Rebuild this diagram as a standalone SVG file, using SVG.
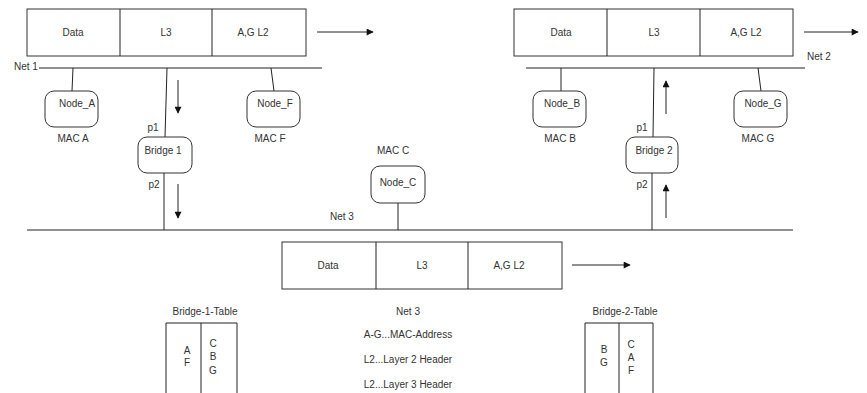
<svg xmlns="http://www.w3.org/2000/svg" width="867" height="393" viewBox="0 0 867 393">
<defs>
<marker id="ah" viewBox="0 0 10 10" refX="9" refY="5" markerWidth="8" markerHeight="7" markerUnits="userSpaceOnUse" orient="auto">
<path d="M0,0 L10,5 L0,10 z" fill="#111"/>
</marker>
<style>
text{font-family:"Liberation Sans",Arial,sans-serif;font-size:10px;fill:#333;text-anchor:middle}
.l{text-anchor:start}
.ln{stroke:#222;stroke-width:1;fill:none}
.bx{stroke:#333;stroke-width:1;fill:#fff}
.ar{stroke:#222;stroke-width:1;fill:none;marker-end:url(#ah)}
</style>
</defs>
<rect width="867" height="393" fill="#fff"/>

<g id="connectors">
<line class="ln" x1="39" y1="68" x2="322" y2="68"/>
<line class="ln" x1="526" y1="68" x2="805" y2="68"/>
<line class="ln" x1="27" y1="230" x2="793" y2="230"/>
<line class="ln" x1="73" y1="68" x2="72" y2="91"/>
<line class="ln" x1="271" y1="68" x2="274" y2="91"/>
<line class="ln" x1="167" y1="68" x2="165" y2="137"/>
<line class="ln" x1="164" y1="173" x2="164" y2="230"/>
<line class="ln" x1="561" y1="68" x2="561" y2="91"/>
<line class="ln" x1="758" y1="68" x2="761" y2="91"/>
<line class="ln" x1="654" y1="68" x2="653" y2="137"/>
<line class="ln" x1="652" y1="173" x2="652" y2="230"/>
<line class="ln" x1="398" y1="203" x2="398" y2="230"/>
<line class="ar" x1="317" y1="32" x2="373" y2="32"/>
<line class="ar" x1="804" y1="32" x2="858" y2="32"/>
<line class="ar" x1="572" y1="265" x2="630" y2="265"/>
<line class="ar" x1="178" y1="80" x2="178" y2="113"/>
<line class="ar" x1="178" y1="184" x2="178" y2="218"/>
<line class="ar" x1="666" y1="114" x2="666" y2="81"/>
<line class="ar" x1="666" y1="218" x2="666" y2="185"/>
</g>

<g id="packet1">
<rect class="bx" x="27" y="9" width="279" height="47"/>
<line class="ln" x1="120" y1="9" x2="120" y2="56"/>
<line class="ln" x1="212" y1="9" x2="212" y2="56"/>
<text x="73" y="36">Data</text>
<text x="166" y="36">L3</text>
<text x="253" y="36">A,G L2</text>
</g>
<g id="packet2">
<rect class="bx" x="514" y="9" width="279" height="47"/>
<line class="ln" x1="607" y1="9" x2="607" y2="56"/>
<line class="ln" x1="700" y1="9" x2="700" y2="56"/>
<text x="561" y="36">Data</text>
<text x="654" y="36">L3</text>
<text x="746" y="36">A,G L2</text>
</g>
<g id="packet3">
<rect class="bx" x="282" y="242" width="280" height="47"/>
<line class="ln" x1="376" y1="242" x2="376" y2="289"/>
<line class="ln" x1="468" y1="242" x2="468" y2="289"/>
<text x="328" y="269">Data</text>
<text x="422" y="269">L3</text>
<text x="509" y="269">A,G L2</text>
</g>

<g id="net-labels">
<text class="l" x="14" y="70">Net 1</text>
<text class="l" x="807" y="60">Net 2</text>
<text class="l" x="330" y="220">Net 3</text>
</g>

<g id="node_a">
<rect class="bx" x="45" y="91" width="53" height="36" rx="9"/>
<text x="77" y="107">Node_A</text>
<text x="73" y="142">MAC A</text>
</g>
<g id="node_f">
<rect class="bx" x="247" y="91" width="53" height="36" rx="9"/>
<text x="275" y="107">Node_F</text>
<text x="270" y="142">MAC F</text>
</g>
<g id="bridge1">
<rect class="bx" x="138" y="137" width="54" height="36" rx="9"/>
<text x="163" y="154">Bridge 1</text>
<text x="153" y="131">p1</text>
<text x="154" y="188">p2</text>
</g>
<g id="node_c">
<rect class="bx" x="371" y="166" width="54" height="37" rx="9"/>
<text x="398" y="186">Node_C</text>
<text x="393" y="154">MAC C</text>
</g>
<g id="node_b">
<rect class="bx" x="533" y="91" width="53" height="36" rx="9"/>
<text x="562" y="107">Node_B</text>
<text x="560" y="142">MAC B</text>
</g>
<g id="node_g">
<rect class="bx" x="734" y="91" width="53" height="36" rx="9"/>
<text x="763" y="107">Node_G</text>
<text x="758" y="142">MAC G</text>
</g>
<g id="bridge2">
<rect class="bx" x="626" y="137" width="52" height="36" rx="9"/>
<text x="654" y="154">Bridge 2</text>
<text x="642" y="131">p1</text>
<text x="642" y="188">p2</text>
</g>

<g id="bridge1-table">
<text x="205" y="315">Bridge-1-Table</text>
<path class="ln" d="M166,400 V323 H237 V400 M201,323 V400"/>
<text x="187" y="354">A</text>
<text x="187" y="366">F</text>
<text x="213" y="347">C</text>
<text x="213" y="360">B</text>
<text x="213" y="374">G</text>
</g>
<g id="legend">
<text x="408" y="315">Net 3</text>
<text x="408" y="338">A-G...MAC-Address</text>
<text x="408" y="363">L2...Layer 2 Header</text>
<text x="408" y="388">L2...Layer 3 Header</text>
</g>
<g id="bridge2-table">
<text x="625" y="315">Bridge-2-Table</text>
<path class="ln" d="M585,400 V323 H653 V400 M619,323 V400"/>
<text x="604" y="353">B</text>
<text x="604" y="366">G</text>
<text x="631" y="348">C</text>
<text x="631" y="361">A</text>
<text x="631" y="374">F</text>
</g>
</svg>
